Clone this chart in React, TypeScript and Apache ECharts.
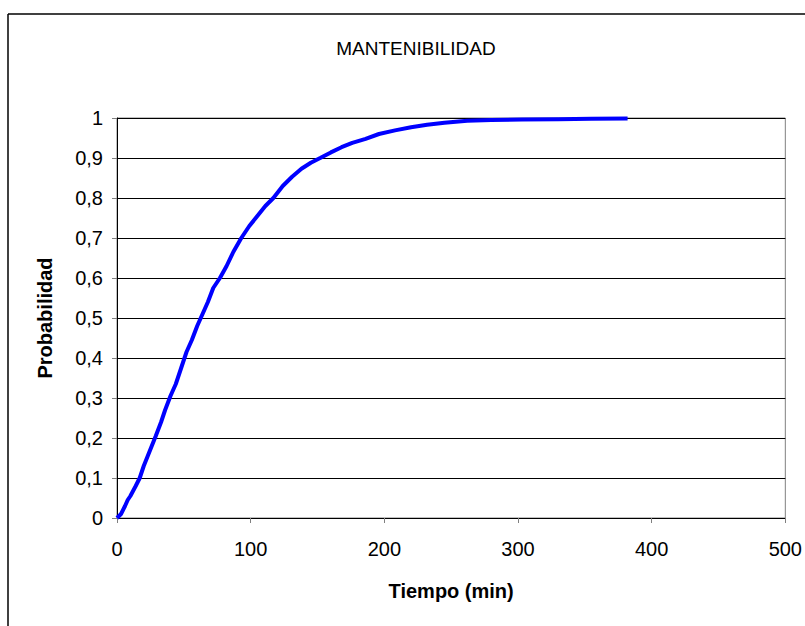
import React, { useEffect, useRef } from "react";
import * as echarts from "echarts";

const tiempo = [0, 3, 6, 8, 10, 14, 17, 20, 23, 26, 29, 33, 36, 40, 44, 48, 52, 56, 60, 64, 68, 72, 77, 82, 87, 93, 99, 105, 111, 117, 124, 131, 138, 145, 152, 160, 168, 176, 186, 196, 208, 220, 232, 245, 262, 280, 303, 330, 355, 382];
const probabilidad = [0, 0.01, 0.03, 0.045, 0.055, 0.08, 0.1, 0.13, 0.155, 0.18, 0.205, 0.24, 0.27, 0.305, 0.335, 0.375, 0.415, 0.445, 0.48, 0.51, 0.54, 0.575, 0.6, 0.63, 0.665, 0.7, 0.73, 0.755, 0.78, 0.8, 0.83, 0.853, 0.873, 0.888, 0.9, 0.914, 0.927, 0.938, 0.948, 0.96, 0.969, 0.977, 0.983, 0.988, 0.993, 0.995, 0.996, 0.997, 0.998, 0.999];

const titulo = "MANTENIBILIDAD";
const nombreX = "Tiempo (min)";
const nombreY = "Probabilidad";

export default function App() {
  const ref = useRef<HTMLDivElement>(null);
  useEffect(() => {
    if (!ref.current) return;
    const chart = echarts.init(ref.current, undefined, { renderer: "svg" });
    const font = "Arial, 'Liberation Sans', sans-serif";
    chart.setOption({
      animation: false,
      backgroundColor: "#ffffff",
      title: {
        text: titulo,
        left: 411,
        top: 34,
        textAlign: "center",
        textStyle: { fontFamily: font, fontSize: 19, fontWeight: "normal", color: "#000" },
      },
      graphic: [
        { type: "line", shape: { x1: 8, y1: 14, x2: 805, y2: 14 }, style: { stroke: "#000", lineWidth: 1.5 } },
        { type: "line", shape: { x1: 8, y1: 14, x2: 8, y2: 626 }, style: { stroke: "#000", lineWidth: 1.5 } },
      ],
      grid: {
        left: 117,
        top: 118,
        right: 17,
        bottom: 108,
        show: true,
        borderColor: "#808080",
        borderWidth: 1,
      },
      xAxis: {
        type: "value",
        min: 0,
        max: 500,
        interval: 100,
        name: nombreX,
        nameLocation: "middle",
        nameGap: 63,
        nameTextStyle: { fontFamily: font, fontSize: 20, fontWeight: "bold", color: "#000" },
        axisLine: { show: true, lineStyle: { color: "#000", width: 1 } },
        axisTick: { show: true, length: 5, lineStyle: { color: "#808080" } },
        axisLabel: { fontFamily: font, fontSize: 20, color: "#000", margin: 21 },
        splitLine: { show: false },
      },
      yAxis: {
        type: "value",
        min: 0,
        max: 1,
        interval: 0.1,
        name: nombreY,
        nameLocation: "middle",
        nameGap: 62,
        nameTextStyle: { fontFamily: font, fontSize: 20, fontWeight: "bold", color: "#000" },
        axisLine: { show: true, lineStyle: { color: "#000", width: 1 } },
        axisTick: { show: true, length: 5, lineStyle: { color: "#808080" } },
        axisLabel: {
          fontFamily: font,
          fontSize: 20,
          color: "#000",
          margin: 14,
          formatter: (v: number) => String(Math.round(v * 10) / 10).replace(".", ","),
        },
        splitLine: { show: true, lineStyle: { color: "#000", width: 1 } },
      },
      series: [
        {
          type: "line",
          data: tiempo.map((t, i) => [t, probabilidad[i]]),
          showSymbol: false,
          smooth: false,
          lineStyle: { color: "#0000ff", width: 4 },
          itemStyle: { color: "#0000ff" },
        },
      ],
    });
    return () => chart.dispose();
  }, []);
  return <div ref={ref} style={{ position: "absolute", left: 0, top: 0, width: 805, height: 626 }} />;
}
